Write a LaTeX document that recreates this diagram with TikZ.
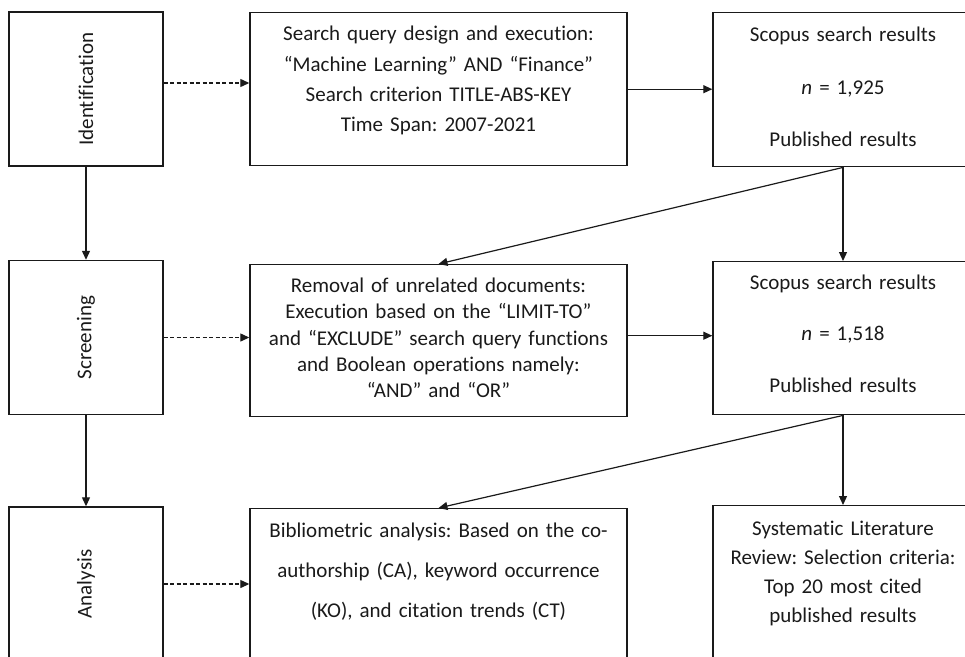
\documentclass[tikz,border=0pt]{standalone}
\usepackage{fontspec}
\setmainfont{Carlito}[Ligatures=NoCommon]
\usetikzlibrary{arrows.meta}
\definecolor{ink}{HTML}{1A1A1A}
\frenchspacing

\begin{document}
\begin{tikzpicture}[x=1pt, y=-1pt,
        stage/.style={draw=ink, line width=1.4pt, minimum width=154pt, minimum height=154pt,
            inner sep=0pt, text=ink, font=\fontsize{21pt}{30pt}\selectfont},
        box/.style={draw=ink, line width=1.4pt, anchor=north, inner sep=0pt, text width=#1,
            align=center, text=ink, font=\fontsize{21pt}{30.3pt}\selectfont},
        arrow/.style={-{Triangle[length=9pt, width=8pt]}, draw=ink, line width=1.2pt},
        dasharrow/.style={arrow, dash pattern=on 4pt off 2.5pt}
    ]
    \useasboundingbox (0,0) rectangle (965,656);
    \clip (0,0) rectangle (965,656);
    % Stages
    \node[stage] (ident) at (86, 89) {\rotatebox{90}{Identification}};
    \node[stage] (screen) at (86, 337.5) {\rotatebox{90}{Screening}};
    \node[stage] (analysis) at (86, 584) {\rotatebox{90}{Analysis}};
    % Middle column
    \node[box=377pt, text height=28pt, text depth=125pt] (query) at (438.5, 12)
        {Search query design and execution:\\ “Machine Learning” AND “Finance”\\
         Search criterion TITLE-ABS-KEY\\ Time Span: 2007-2021};
    \node[box=377pt, text height=27.5pt, text depth=124.5pt,
          font=\fontsize{21pt}{26.4pt}\selectfont] (removal) at (438.5, 264)
        {Removal of unrelated documents:\\ Execution based on the “LIMIT-TO”\\
         and “EXCLUDE” search query functions\\ and Boolean operations namely:\\ “AND” and “OR”};
    \node[box=377pt, text height=28.7pt, text depth=150pt,
          font=\fontsize{21pt}{40pt}\selectfont] (biblio) at (438.5, 508)
        {Bibliometric analysis: Based on the co-\\ authorship (CA), keyword occurrence\\
         (KO), and citation trends (CT)};
    % Right column
    \node[box=260pt, text height=28.7pt, text depth=125.3pt] (scopus1) at (843, 12)
        {Scopus search results\\[22.4pt] \textit{n} = 1,925\\[22.4pt] Published results};
    \node[box=260pt, text height=27.3pt, text depth=125.7pt] (scopus2) at (843, 261)
        {Scopus search results\\[21.4pt] \textit{n} = 1,518\\[21.4pt] Published results};
    \node[box=260pt, text height=30pt, text depth=150pt,
          font=\fontsize{21pt}{29pt}\selectfont] (slr) at (843, 505)
        {Systematic Literature\\ Review: Selection criteria:\\ Top 20 most cited\\ published results};
    % Connectors
    \coordinate (d1) at ([yshift=6pt]ident.east);
    \coordinate (s2) at ([yshift=5pt]removal.east);
    \draw[arrow] (ident) -- (screen);
    \draw[arrow] (screen) -- (analysis);
    \draw[dasharrow] (d1) -- (d1 -| query.west);
    \draw[dasharrow] (screen.east) -- (screen.east -| removal.west);
    \draw[dasharrow] (analysis.east) -- (analysis.east -| biblio.west);
    \draw[arrow] (query.east) -- (query.east -| scopus1.west);
    \draw[arrow] (s2) -- (s2 -| scopus2.west);
    \draw[arrow] (scopus1.south) -- (removal.north);
    \draw[arrow] (scopus1.south) -- (scopus2.north);
    \draw[arrow] (scopus2.south) -- (biblio.north);
    \draw[arrow] (scopus2.south) -- (slr.north);
\end{tikzpicture}
\end{document}
